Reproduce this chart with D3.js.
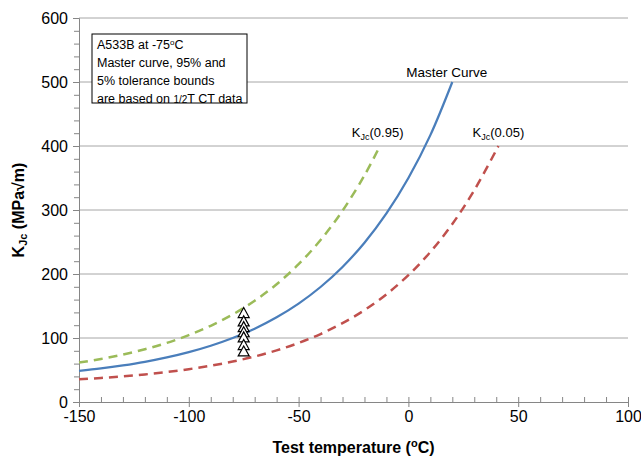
<!DOCTYPE html>
<html>
<head>
  <meta charset="utf-8">
  <script src="https://d3js.org/d3.v7.min.js"></script>
  <style>
    body { margin: 0; background: #fff; }
    text { font-family: "Liberation Sans", Arial, sans-serif; fill: #000; }
  </style>
</head>
<body>
  <div id="chart"></div>

  <script>
    // Master curve (median)
    var masterT = [-150, -140, -130, -120, -110, -100, -90, -80, -70, -60, -50, -40, -30, -20, -10, 0, 10, 20];
    var masterK = [48.5, 52.4, 57.1, 62.7, 69.6, 77.9, 87.9, 100, 114.6, 132.4, 153.8, 179.7, 211, 248.9, 294.7, 350, 417, 500];

    // 95% tolerance bound
    var upperT = [-150, -140, -130, -120, -110, -100, -90, -80, -70, -60, -50, -40, -30, -20, -14];
    var upperK = [61.6, 67.3, 74.1, 82.4, 92.4, 104.5, 119.1, 136.8, 158.2, 184, 215.3, 253.1, 298.9, 354.2, 393];

    // 5% tolerance bound
    var lowerT = [-150, -140, -130, -120, -110, -100, -90, -80, -70, -60, -50, -40, -30, -20, -10, 0, 10, 20, 30, 41];
    var lowerK = [35.4, 37.5, 40, 43.1, 46.8, 51.3, 56.7, 63.2, 71.1, 80.7, 92.2, 106.2, 123.2, 143.6, 168.3, 198.2, 234.4, 278.1, 331, 400];

    // test data at -75 C
    var testT = [-75, -75, -75, -75, -75, -75, -75];
    var testK = [139, 126, 117, 109, 101, 89, 79];

    var xTicks = [-150, -100, -50, 0, 50, 100];
    var yTicks = [0, 100, 200, 300, 400, 500, 600];

    var margin = {top: 18, right: 13, bottom: 57, left: 79},
        width = 641 - margin.left - margin.right,
        height = 459 - margin.top - margin.bottom;

    var svg = d3.select("#chart")
      .append("svg")
      .attr("width", 641)
      .attr("height", 459)
      .append("g")
      .attr("transform", "translate(" + margin.left + "," + margin.top + ")");

    var x = d3.scaleLinear().domain([-150, 100]).range([0, width]);
    var y = d3.scaleLinear().domain([0, 600]).range([height, 0]);

    // horizontal gridlines
    svg.append("g")
      .selectAll("line")
      .data(yTicks.filter(function(d) { return d > 0; }))
      .enter()
      .append("line")
      .attr("x1", 0)
      .attr("x2", width)
      .attr("y1", function(d) { return y(d); })
      .attr("y2", function(d) { return y(d); })
      .attr("stroke", "#a6a6a6")
      .attr("stroke-width", 1);

    // minor ticks
    var xMinor = svg.append("g")
      .attr("transform", "translate(0," + height + ")")
      .call(d3.axisBottom(x).tickValues(d3.range(-150, 101, 10)).tickSize(-5).tickFormat(""));
    var yMinor = svg.append("g")
      .call(d3.axisLeft(y).tickValues(d3.range(0, 601, 20)).tickSize(5).tickFormat(""));

    // major axes
    var plain = function(d) { return String(d); };
    var xAxis = svg.append("g")
      .attr("transform", "translate(0," + height + ")")
      .call(d3.axisBottom(x).tickValues(xTicks).tickSize(5).tickPadding(4).tickFormat(plain));
    var yAxis = svg.append("g")
      .call(d3.axisLeft(y).tickValues(yTicks).tickSize(6).tickPadding(5).tickFormat(plain));

    [xMinor, yMinor, xAxis, yAxis].forEach(function(g) {
      g.selectAll("path").attr("stroke", "#868686").attr("stroke-width", 1);
      g.selectAll("line").attr("stroke", "#868686");
    });
    xMinor.select(".domain").remove();
    yMinor.select(".domain").remove();
    xAxis.selectAll("text").style("font-size", "16px").attr("fill", "#000");
    yAxis.selectAll("text").style("font-size", "16px").attr("fill", "#000");

    var line = d3.line()
      .x(function(d) { return x(d[0]); })
      .y(function(d) { return y(d[1]); })
      .curve(d3.curveCatmullRom.alpha(0.5));

    svg.append("path")
      .datum(d3.zip(upperT, upperK))
      .attr("d", line)
      .attr("fill", "none")
      .attr("stroke", "#9bbb59")
      .attr("stroke-width", 2.5)
      .attr("stroke-dasharray", "9,6");

    svg.append("path")
      .datum(d3.zip(lowerT, lowerK))
      .attr("d", line)
      .attr("fill", "none")
      .attr("stroke", "#c0504d")
      .attr("stroke-width", 2.5)
      .attr("stroke-dasharray", "9,6");

    svg.append("path")
      .datum(d3.zip(masterT, masterK))
      .attr("d", line)
      .attr("fill", "none")
      .attr("stroke", "#4a7ebb")
      .attr("stroke-width", 2.25);

    // test data triangles
    svg.append("g")
      .selectAll("path")
      .data(d3.zip(testT, testK))
      .enter()
      .append("path")
      .attr("transform", function(d) { return "translate(" + x(d[0]) + "," + y(d[1]) + ")"; })
      .attr("d", "M0,-5.5L5.5,4.5L-5.5,4.5Z")
      .attr("fill", "#fff")
      .attr("stroke", "#000")
      .attr("stroke-width", 1.2);

    // curve labels
    svg.append("text")
      .attr("x", x(17.5))
      .attr("y", y(508))
      .attr("text-anchor", "middle")
      .style("font-size", "13.5px")
      .text("Master Curve");

    function kLabel(t, k, p) {
      var tx = svg.append("text")
        .attr("x", x(t))
        .attr("y", y(k))
        .attr("text-anchor", "middle")
        .style("font-size", "13px");
      tx.append("tspan").text("K");
      tx.append("tspan").attr("dy", 3).style("font-size", "9px").text("Jc");
      tx.append("tspan").attr("dy", -3).text("(" + p + ")");
    }
    kLabel(-14, 414, "0.95");
    kLabel(41, 414, "0.05");

    // annotation box
    svg.append("rect")
      .attr("x", 13)
      .attr("y", 16)
      .attr("width", 155)
      .attr("height", 69)
      .attr("fill", "#fff")
      .attr("stroke", "#000")
      .attr("stroke-width", 1);

    var note = svg.append("text")
      .attr("x", 18)
      .attr("y", 31)
      .style("font-size", "12.5px");
    note.append("tspan").text("A533B at -75");
    note.append("tspan").attr("dy", -4).style("font-size", "8px").text("o");
    note.append("tspan").attr("dy", 4).text("C");
    note.append("tspan").attr("x", 18).attr("dy", 18).text("Master curve, 95% and");
    note.append("tspan").attr("x", 18).attr("dy", 18).text("5% tolerance bounds");
    var last = note.append("tspan").attr("x", 18).attr("dy", 18);
    last.append("tspan").text("are based on ");
    last.append("tspan").style("font-size", "10px").text("1/2");
    last.append("tspan").text("T CT data");

    // axis titles
    var xt = svg.append("text")
      .attr("x", width / 2)
      .attr("y", height + 51)
      .attr("text-anchor", "middle")
      .style("font-size", "16px")
      .style("font-weight", "bold");
    xt.append("tspan").text("Test temperature (");
    xt.append("tspan").attr("dy", -6).style("font-size", "11px").text("o");
    xt.append("tspan").attr("dy", 6).text("C)");

    var yt = svg.append("text")
      .attr("transform", "translate(" + (-55) + "," + (height / 2 + 0) + ") rotate(-90)")
      .attr("text-anchor", "middle")
      .style("font-size", "16px")
      .style("font-weight", "bold");
    yt.append("tspan").text("K");
    yt.append("tspan").attr("dy", 3).style("font-size", "11px").text("Jc");
    yt.append("tspan").attr("dy", -3).text(" (MPa\u221Am)");
  </script>
</body>
</html>
